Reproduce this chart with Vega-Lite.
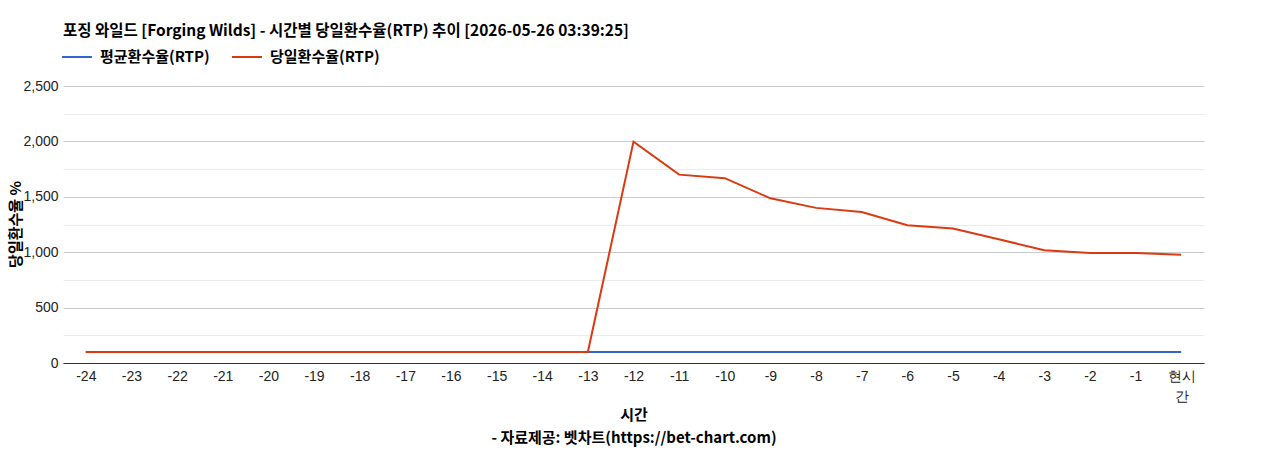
{
  "$schema": "https://vega.github.io/schema/vega-lite/v6.json",
  "width": 1141,
  "height": 277,
  "autosize": "none",
  "padding": {"left": 63, "top": 86, "right": 64, "bottom": 87},
  "background": "white",
  "config": {
    "view": {"stroke": null},
    "font": "Liberation Sans"
  },
  "title": {
    "text": "포징 와일드 [Forging Wilds] - 시간별 당일환수율(RTP) 추이 [2026-05-26 03:39:25]",
    "anchor": "start",
    "frame": "group",
    "font": "Noto Sans CJK KR",
    "fontSize": 15.5,
    "fontWeight": "bold",
    "color": "#000000",
    "offset": 2
  },
  "data": {
    "values": [
      {"시간": "-24", "series": "평균환수율(RTP)", "rtp": 100},
      {"시간": "-23", "series": "평균환수율(RTP)", "rtp": 100},
      {"시간": "-22", "series": "평균환수율(RTP)", "rtp": 100},
      {"시간": "-21", "series": "평균환수율(RTP)", "rtp": 100},
      {"시간": "-20", "series": "평균환수율(RTP)", "rtp": 100},
      {"시간": "-19", "series": "평균환수율(RTP)", "rtp": 100},
      {"시간": "-18", "series": "평균환수율(RTP)", "rtp": 100},
      {"시간": "-17", "series": "평균환수율(RTP)", "rtp": 100},
      {"시간": "-16", "series": "평균환수율(RTP)", "rtp": 100},
      {"시간": "-15", "series": "평균환수율(RTP)", "rtp": 100},
      {"시간": "-14", "series": "평균환수율(RTP)", "rtp": 100},
      {"시간": "-13", "series": "평균환수율(RTP)", "rtp": 100},
      {"시간": "-12", "series": "평균환수율(RTP)", "rtp": 100},
      {"시간": "-11", "series": "평균환수율(RTP)", "rtp": 100},
      {"시간": "-10", "series": "평균환수율(RTP)", "rtp": 100},
      {"시간": "-9", "series": "평균환수율(RTP)", "rtp": 100},
      {"시간": "-8", "series": "평균환수율(RTP)", "rtp": 100},
      {"시간": "-7", "series": "평균환수율(RTP)", "rtp": 100},
      {"시간": "-6", "series": "평균환수율(RTP)", "rtp": 100},
      {"시간": "-5", "series": "평균환수율(RTP)", "rtp": 100},
      {"시간": "-4", "series": "평균환수율(RTP)", "rtp": 100},
      {"시간": "-3", "series": "평균환수율(RTP)", "rtp": 100},
      {"시간": "-2", "series": "평균환수율(RTP)", "rtp": 100},
      {"시간": "-1", "series": "평균환수율(RTP)", "rtp": 100},
      {"시간": "현시간", "series": "평균환수율(RTP)", "rtp": 100},
      {"시간": "-24", "series": "당일환수율(RTP)", "rtp": 100},
      {"시간": "-23", "series": "당일환수율(RTP)", "rtp": 100},
      {"시간": "-22", "series": "당일환수율(RTP)", "rtp": 100},
      {"시간": "-21", "series": "당일환수율(RTP)", "rtp": 100},
      {"시간": "-20", "series": "당일환수율(RTP)", "rtp": 100},
      {"시간": "-19", "series": "당일환수율(RTP)", "rtp": 100},
      {"시간": "-18", "series": "당일환수율(RTP)", "rtp": 100},
      {"시간": "-17", "series": "당일환수율(RTP)", "rtp": 100},
      {"시간": "-16", "series": "당일환수율(RTP)", "rtp": 100},
      {"시간": "-15", "series": "당일환수율(RTP)", "rtp": 100},
      {"시간": "-14", "series": "당일환수율(RTP)", "rtp": 100},
      {"시간": "-13", "series": "당일환수율(RTP)", "rtp": 100},
      {"시간": "-12", "series": "당일환수율(RTP)", "rtp": 1998},
      {"시간": "-11", "series": "당일환수율(RTP)", "rtp": 1700},
      {"시간": "-10", "series": "당일환수율(RTP)", "rtp": 1668},
      {"시간": "-9", "series": "당일환수율(RTP)", "rtp": 1486},
      {"시간": "-8", "series": "당일환수율(RTP)", "rtp": 1400},
      {"시간": "-7", "series": "당일환수율(RTP)", "rtp": 1362},
      {"시간": "-6", "series": "당일환수율(RTP)", "rtp": 1243},
      {"시간": "-5", "series": "당일환수율(RTP)", "rtp": 1213},
      {"시간": "-4", "series": "당일환수율(RTP)", "rtp": 1117},
      {"시간": "-3", "series": "당일환수율(RTP)", "rtp": 1018},
      {"시간": "-2", "series": "당일환수율(RTP)", "rtp": 992},
      {"시간": "-1", "series": "당일환수율(RTP)", "rtp": 992},
      {"시간": "현시간", "series": "당일환수율(RTP)", "rtp": 976}
    ]
  },
  "mark": {"type": "line", "strokeWidth": 2},
  "encoding": {
    "x": {
      "field": "시간",
      "type": "ordinal",
      "sort": null,
      "scale": {"type": "point", "padding": 0.5},
      "axis": {
        "labelAngle": 0,
        "labelFontSize": 14,
        "labelColor": "#222222",
        "labelPadding": 6,
        "ticks": false,
        "domainColor": "#333333",
        "domainWidth": 1,
        "grid": false,
        "labelExpr": "datum.label == '현시간' ? ['현시', '간'] : datum.label",
        "labelLineHeight": 20,
        "title": ["시간", "- 자료제공: 벳차트(https://bet-chart.com)"],
        "titleFont": "Noto Sans CJK KR",
        "titleFontSize": 15,
        "titleFontWeight": "bold",
        "titleColor": "#000000",
        "titleLineHeight": 23,
        "titlePadding": 4
      }
    },
    "y": {
      "field": "rtp",
      "type": "quantitative",
      "scale": {"domain": [0, 2500], "nice": false},
      "axis": {
        "values": [0, 250, 500, 750, 1000, 1250, 1500, 1750, 2000, 2250, 2500],
        "labelExpr": "datum.value % 500 === 0 ? format(datum.value, ',') : ''",
        "labelFontSize": 14,
        "labelColor": "#222222",
        "labelPadding": 5,
        "ticks": false,
        "domain": false,
        "gridColor": {"condition": {"test": "datum.value % 500 === 0", "value": "#cccccc"}, "value": "#ebebeb"},
        "title": "당일환수율 %",
        "titleFont": "Noto Sans CJK KR",
        "titleFontSize": 15,
        "titleFontWeight": "bold",
        "titleColor": "#000000",
        "titleX": -48,
        "titleY": 138,
        "titleBaseline": "middle",
        "titleAlign": "center",
        "titleAngle": 270
      }
    },
    "color": {
      "field": "series",
      "type": "nominal",
      "sort": ["평균환수율(RTP)", "당일환수율(RTP)"],
      "scale": {"domain": ["평균환수율(RTP)", "당일환수율(RTP)"], "range": ["#3366cc", "#dc3912"]},
      "legend": {
        "title": null,
        "orient": "none",
        "direction": "horizontal",
        "legendX": -2,
        "legendY": -45,
        "symbolType": "stroke",
        "symbolSize": 900,
        "symbolStrokeWidth": 2,
        "labelFont": "Noto Sans CJK KR",
        "labelFontSize": 15,
        "labelFontWeight": "bold",
        "labelColor": "#000000",
        "columnPadding": 18,
        "labelOffset": 7
      }
    }
  }
}
